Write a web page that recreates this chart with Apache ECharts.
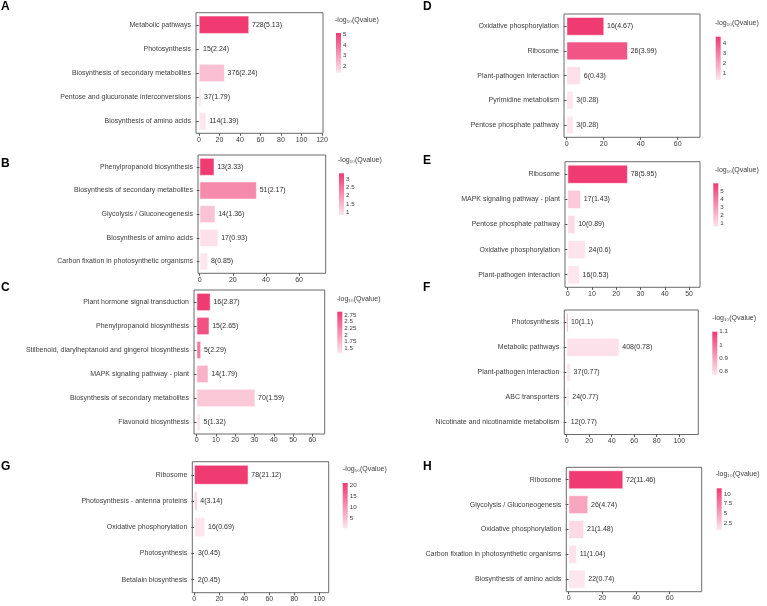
<!DOCTYPE html>
<html><head><meta charset="utf-8">
<script src="https://cdn.jsdelivr.net/npm/echarts@6/dist/echarts.min.js"></script>
<style>html,body{margin:0;padding:0;background:#fff}#c{width:767px;height:606px}</style>
</head><body><div id="c"></div>
<script>
// ---------- DATA ----------
const catsA = ['Metabolic pathways','Photosynthesis','Biosynthesis of secondary metabolites','Pentose and glucuronate interconversions','Biosynthesis of amino acids'];
const ratioA = [48.8, 1.0, 25.0, 2.0, 7.0];
const countA = [728, 15, 376, 37, 114];
const qA = [5.13, 2.24, 2.24, 1.79, 1.39];
const xTicksA = [0, 20, 40, 60, 80, 100, 120];
const cbTicksA = [2, 3, 4, 5];

const catsB = ['Phenylpropanoid biosynthesis','Biosynthesis of secondary metabolites','Glycolysis / Gluconeogenesis','Biosynthesis of amino acids','Carbon fixation in photosynthetic organisms'];
const ratioB = [8.8, 34.4, 9.4, 11.2, 5.0];
const countB = [13, 51, 14, 17, 8];
const qB = [3.33, 2.17, 1.36, 0.93, 0.85];
const xTicksB = [0, 20, 40, 60];
const cbTicksB = [1, 1.5, 2, 2.5, 3];

const catsC = ['Plant hormone signal transduction','Phenylpropanoid biosynthesis','Stilbenoid, diarylheptanoid and gingerol biosynthesis','MAPK signaling pathway - plant','Biosynthesis of secondary metabolites','Flavonoid biosynthesis'];
const ratioC = [7.1, 6.5, 2.2, 6.0, 30.3, 2.0];
const countC = [16, 15, 5, 14, 70, 5];
const qC = [2.87, 2.65, 2.29, 1.79, 1.59, 1.32];
const xTicksC = [0, 10, 20, 30, 40, 50, 60];
const cbTicksC = [1.5, 1.75, 2, 2.25, 2.5, 2.75];

const catsG = ['Ribosome','Photosynthesis - antenna proteins','Oxidative phosphorylation','Photosynthesis','Betalain biosynthesis'];
const ratioG = [43.2, 2.4, 8.6, 0.5, 0.4];
const countG = [78, 4, 16, 3, 2];
const qG = [21.12, 3.14, 0.69, 0.45, 0.45];
const xTicksG = [0, 20, 40, 60, 80, 100];
const cbTicksG = [5, 10, 15, 20];

const catsD = ['Oxidative phosphorylation','Ribosome','Plant-pathogen interaction','Pyrimidine metabolism','Pentose phosphate pathway'];
const ratioD = [20.2, 33.0, 7.6, 3.6, 3.6];
const countD = [16, 26, 6, 3, 3];
const qD = [4.67, 3.99, 0.43, 0.28, 0.28];
const xTicksD = [0, 20, 40, 60];
const cbTicksD = [1, 2, 3, 4];

const catsE = ['Ribosome','MAPK signaling pathway - plant','Pentose phosphate pathway','Oxidative phosphorylation','Plant-pathogen interaction'];
const ratioE = [24.7, 5.4, 3.1, 7.4, 4.9];
const countE = [78, 17, 10, 24, 16];
const qE = [5.95, 1.43, 0.89, 0.6, 0.53];
const xTicksE = [0, 10, 20, 30, 40, 50];
const cbTicksE = [1, 2, 3, 4, 5];

const catsF = ['Photosynthesis','Metabolic pathways','Plant-pathogen interaction','ABC transporters','Nicotinate and nicotinamide metabolism'];
const ratioF = [1.1, 46.7, 3.5, 2.3, 1.0];
const countF = [10, 408, 37, 24, 12];
const qF = [1.1, 0.78, 0.77, 0.77, 0.77];
const xTicksF = [0, 20, 40, 60, 80, 100];
const cbTicksF = [0.8, 0.9, 1, 1.1];

const catsH = ['Ribosome','Glycolysis / Gluconeogenesis','Oxidative phosphorylation','Carbon fixation in photosynthetic organisms','Biosynthesis of amino acids'];
const ratioH = [32.3, 11.5, 9.1, 4.8, 9.9];
const countH = [72, 26, 21, 11, 22];
const qH = [11.46, 4.74, 1.48, 1.04, 0.74];
const xTicksH = [0, 20, 40, 60];
const cbTicksH = [2.5, 5, 7.5, 10];

// ---------- CHART ----------
const FONT = '"Liberation Sans", Arial, Helvetica, sans-serif';
const LOW = '#FDE6EE', HIGH = '#EF3A72';
const TXT = '#3c3c3c';
const option = {animation:false, backgroundColor:'#fff', title:[], grid:[], xAxis:[], yAxis:[], series:[], visualMap:[]};

function addPanel(p) {
  const gi = option.grid.length;
  option.grid.push({left:p.box[0], top:p.box[1], width:p.box[2], height:p.box[3], show:true,
    borderColor:'#6a6a6a', borderWidth:1, backgroundColor:'#fff'});
  option.xAxis.push({type:'value', gridIndex:gi, min:p.xMin, max:p.xMax,
    axisLine:{show:false}, splitLine:{show:false},
    axisTick:{show:true, length:2.5, lineStyle:{color:'#555'}, customValues:p.xTicks},
    axisLabel:{customValues:p.xTicks, fontSize:7, color:TXT, margin:3, fontFamily:FONT,
      showMinLabel:true, showMaxLabel:true}});
  option.yAxis.push({type:'category', gridIndex:gi, data:p.cats, inverse:true,
    axisLine:{show:false},
    axisTick:{show:true, length:3, alignWithLabel:true, lineStyle:{color:'#555'}},
    axisLabel:{fontSize:7, color:TXT, margin:5, fontFamily:FONT, interval:0}});
  const si = option.series.length;
  option.series.push({type:'bar', xAxisIndex:gi, yAxisIndex:gi, barCategoryGap:'26%',
    data:p.cats.map((c,i)=>[p.ratio[i], c, p.q[i], p.count[i]]),
    encode:{x:0, y:1},
    itemStyle:{borderColor:'#fff', borderWidth:0.5},
    label:{show:true, position:'right', distance:3, fontSize:7, color:'#2e2e2e', fontFamily:FONT,
      formatter:d=>d.value[3]+'('+d.value[2]+')'}});
  const qmin = Math.min(...p.q), qmax = Math.max(...p.q);
  option.visualMap.push({type:'continuous', show:false, seriesIndex:si, dimension:2,
    min:qmin, max:qmax, inRange:{color:[LOW, HIGH]}});
  // colour bar
  const cgi = option.grid.length;
  option.grid.push({left:p.cb[0], top:p.cb[1], width:p.cb[2], height:p.cb[3], show:false});
  option.xAxis.push({type:'category', gridIndex:cgi, data:['q'], show:false});
  option.yAxis.push({type:'value', gridIndex:cgi, min:qmin, max:qmax, position:'right',
    axisLine:{show:false}, splitLine:{show:false},
    axisTick:{show:true, inside:true, length:1.2, lineStyle:{color:'#fff'}, customValues:p.cbTicks},
    axisLabel:{customValues:p.cbTicks, fontSize:6.2, lineHeight:5, padding:0, color:TXT, margin:2, fontFamily:FONT,
      showMinLabel:true, showMaxLabel:true, hideOverlap:false, interval:0}});
  option.series.push({type:'bar', xAxisIndex:cgi, yAxisIndex:cgi, stack:'cb'+cgi, data:[qmin],
    barWidth:'100%', itemStyle:{color:'rgba(0,0,0,0)'}, silent:true});
  option.series.push({type:'bar', xAxisIndex:cgi, yAxisIndex:cgi, stack:'cb'+cgi, data:[qmax-qmin],
    barWidth:'100%', silent:true, z:1,
    itemStyle:{color:new echarts.graphic.LinearGradient(0,0,0,1,[{offset:0,color:HIGH},{offset:1,color:LOW}])}});
  option.title.push({text:p.letter, left:p.letterPos[0], top:p.letterPos[1], padding:0,
    textStyle:{fontSize:12, fontWeight:'bold', color:'#000', fontFamily:FONT}});
  option.title.push({text:'-log₁₀(Qvalue)', left:p.titlePos[0], top:p.titlePos[1], padding:0,
    textStyle:{fontSize:7, fontWeight:'normal', color:TXT, fontFamily:FONT}});
}

addPanel({letter:'A', cats:catsA, ratio:ratioA, count:countA, q:qA, xTicks:xTicksA, cbTicks:cbTicksA,
  xMin:-2.9, xMax:121, box:[196,12.7,127,120.6], cb:[336,33,5,39.7], letterPos:[1,1], titlePos:[335,17]});
addPanel({letter:'B', cats:catsB, ratio:ratioB, count:countB, q:qB, xTicks:xTicksB, cbTicks:cbTicksB,
  xMin:-1.0, xMax:76.1, box:[198,155,127.7,118.3], cb:[339,173.3,5,41.7], letterPos:[1,158], titlePos:[338,157]});
addPanel({letter:'C', cats:catsC, ratio:ratioC, count:countC, q:qC, xTicks:xTicksC, cbTicks:cbTicksC,
  xMin:-1.4, xMax:66.4, box:[194,290,130.7,144], cb:[337.3,311.7,5,41.6], letterPos:[1,282], titlePos:[336.7,295.5]});
addPanel({letter:'G', cats:catsG, ratio:ratioG, count:countG, q:qG, xTicks:xTicksG, cbTicks:cbTicksG,
  xMin:-1.6, xMax:107.5, box:[192.3,461.7,136.4,131], cb:[342.7,483,5,45.3], letterPos:[1,461], titlePos:[343,466]});
addPanel({letter:'D', cats:catsD, ratio:ratioD, count:countD, q:qD, xTicks:xTicksD, cbTicks:cbTicksD,
  xMin:-1.46, xMax:72.1, box:[564,14,136,123.3], cb:[715.7,36.7,5,43.3], letterPos:[423,1], titlePos:[715,20]});
addPanel({letter:'E', cats:catsE, ratio:ratioE, count:countE, q:qE, xTicks:xTicksE, cbTicks:cbTicksE,
  xMin:-1.1, xMax:54.5, box:[565,161.7,135,125.6], cb:[713.3,183.3,5,43.4], letterPos:[423,154.5], titlePos:[715,166.7]});
addPanel({letter:'F', cats:catsF, ratio:ratioF, count:countF, q:qF, xTicks:xTicksF, cbTicks:cbTicksF,
  xMin:-2.1, xMax:116.9, box:[564.3,310,134,124.5], cb:[712.3,331.7,5,43.3], letterPos:[423,282], titlePos:[712.3,315]});
addPanel({letter:'H', cats:catsH, ratio:ratioH, count:countH, q:qH, xTicks:xTicksH, cbTicks:cbTicksH,
  xMin:-1.4, xMax:79, box:[566.3,467.3,135.4,124.4], cb:[716.7,488.3,5,41.7], letterPos:[423,461], titlePos:[715.7,471]});

const chart = echarts.init(document.getElementById('c'), null, {renderer:'canvas'});
chart.setOption(option);
</script>
</body></html>
